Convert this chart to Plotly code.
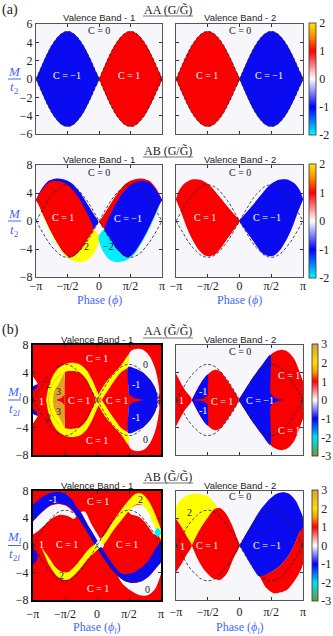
import numpy as np
import plotly.graph_objects as go

PI = float(np.pi)
W, H = 333, 636

# ---------------- data ----------------
PHASE_TICKS = [-PI, -PI / 2, 0.0, PI / 2, PI]
PHASE_TICK_TEXT = ["\u2212\u03c0", "\u2212\u03c0/2", "0", "\u03c0/2", "\u03c0"]
M_TICKS_6 = [-6, -4, -2, 0, 2, 4, 6]
M_TICKS_8 = [-8, -4, 0, 4, 8]
CB_TICKS_A = [-2, -1, 0, 1, 2]
CB_TICKS_B = [-3, -2, -1, 0, 1, 2, 3]

# AA phase boundary |M| on a pi/16 phase grid (read from the lobes)
PHASE_NEG = list(np.linspace(-PI, 0, 17))
PHASE_POS = list(np.linspace(0, PI, 17))
AA_EDGE = [0, 1.01, 1.99, 2.89, 3.68, 4.32, 4.80, 5.10, 5.20, 5.10, 4.80, 4.32, 3.68, 2.89, 1.99, 1.01, 0]

# (a) AB valence band 1, left lobe (right lobe is its mirror with opposite C)
A3_OUT_UP = [(-3.15, 3.0), (-2.86, 4.6), (-2.53, 5.7), (-2.19, 6.05), (-1.78, 5.95), (-1.36, 5.4),
             (-0.95, 4.1), (-0.53, 2.2), (-0.20, 0.7), (-0.03, -0.15)]
A3_RED_UP = [(-3.15, 3.0), (-2.86, 4.4), (-2.53, 5.45), (-2.19, 5.75), (-1.78, 5.5), (-1.45, 4.85),
             (-1.03, 3.4), (-0.70, 1.7), (-0.45, 0.25), (-0.28, -1.2)]
A3_RED_LOW = [(-0.28, -1.2), (-0.53, -2.4), (-0.86, -3.9), (-1.20, -4.9), (-1.45, -5.2), (-1.75, -4.55),
              (-2.05, -3.25), (-2.4, -1.45), (-2.75, 0.65), (-3.03, 2.45), (-3.15, 3.0)]
A3_OUT_LOW = [(-3.15, 3.0), (-3.03, 2.3), (-2.75, 0.4), (-2.4, -1.7), (-2.05, -3.5), (-1.75, -4.8),
              (-1.45, -5.45), (-1.15, -5.8), (-0.86, -5.9), (-0.53, -5.55), (-0.20, -4.35),
              (-0.03, -3.15), (0.02, -2.2)]
# (a) AB valence band 2, left lobe
A4_UP = [(-3.15, 3.1), (-3.0, 4.3), (-2.73, 5.35), (-2.31, 5.95), (-1.90, 5.85), (-1.48, 5.1),
         (-1.06, 3.7), (-0.65, 2.25), (-0.23, 0.85), (0.0, 0.0)]
A4_LOW = [(-3.15, 3.1), (-2.89, 1.3), (-2.48, -1.8), (-2.06, -3.95), (-1.73, -4.9), (-1.48, -5.05),
          (-1.15, -4.65), (-0.65, -2.75), (-0.23, -1.05), (0.0, 0.0)]

# (b) AA valence band 1
B1_BAND_HI = [(-2.50, 0.0), (-2.36, 2.1), (-2.15, 3.6), (-1.9, 4.6), (-1.55, 5.25), (-1.15, 5.4),
              (-0.8, 5.1), (-0.5, 4.3), (-0.25, 3.0), (0.08, 0.8), (0.45, -1.0), (0.83, -2.7),
              (1.2, -4.1), (1.54, -4.85)]
B1_BAND_LO = [(-2.40, 0.0), (-2.24, 1.9), (-2.02, 3.0), (-1.78, 3.75), (-1.5, 4.15), (-1.15, 4.2),
              (-0.8, 3.9), (-0.5, 2.9), (-0.25, 1.4), (0.08, -0.8), (0.45, -2.6), (0.83, -3.9),
              (1.2, -5.1), (1.54, -6.5)]
B1_YEL_IN_UP = [(-2.40, 0.0), (-2.24, 1.9), (-2.02, 3.0), (-1.78, 3.75), (-1.6, 4.1), (-1.6, 2.0)]
B1_ORANGE_UP = [(-1.6, 4.0), (-1.72, 3.3), (-1.9, 2.3), (-2.1, 1.3), (-2.15, 0.4)]
B1_SPIKE_L_UP = [(-1.6, 0.75), (-1.75, 0.3), (-1.98, 0.0)]
B1_CAP_UP = [(1.54, 2.0), (1.54, 6.5), (1.7, 7.2), (2.0, 7.45), (2.3, 7.25), (2.6, 6.3), (2.85, 4.6),
             (3.0, 2.6), (3.06, 1.0), (3.0, 0.3)]
B1_BLUE_UP = [(1.54, 2.0), (1.54, 4.85), (1.9, 4.55), (2.3, 3.9), (2.6, 3.0), (2.85, 1.8),
              (2.97, 0.6), (3.0, 0.0)]
B1_SPIKE_R_UP = [(1.54, 1.0), (1.75, 0.4), (2.23, 0.0)]
B1_EDGE_WHITE = [(-3.15, 3.4), (-2.92, 2.3), (-3.15, 2.0)]
B1_EDGE_BLUE = [(-3.15, 2.0), (-2.92, 2.3), (-2.98, 1.7), (-3.15, 1.3)]
B1_CENTER = [(-0.12, 0.0), (0.08, 0.55), (0.28, 0.0), (0.08, -0.55)]
B1_DOT = [(2.93, 0.0), (3.0, 0.25), (3.07, 0.0), (3.0, -0.25)]

# (b) AA valence band 2
B2_WEDGE_UP = [(-3.15, 3.9), (-2.94, 2.7), (-2.70, 1.45), (-2.36, 0.0)]
B2_LOBE1_UP = [(-2.36, 0.0), (-2.1, 1.5), (-1.85, 2.75), (-1.57, 3.7), (-1.35, 4.25), (-1.15, 4.4),
               (-0.95, 4.15), (-0.63, 2.95), (-0.3, 1.45), (-0.05, 0.0)]
B2_LOBE1_BLUE_UP = [(-2.36, 0.0), (-2.1, 1.5), (-1.85, 2.75), (-1.57, 3.7), (-1.57, 1.5)]
B2_SPIKE_L_UP = [(-1.57, 0.8), (-1.75, 0.25), (-2.28, 0.0)]
B2_LOBE2_UP = [(-0.05, 0.0), (0.3, 1.6), (0.7, 3.4), (1.1, 5.0), (1.52, 6.55), (1.8, 7.1), (2.1, 7.3),
               (2.4, 7.0), (2.7, 6.0), (2.95, 4.3), (3.08, 3.2), (3.15, 2.6)]
B2_LOBE2_BLUE_UP = [(-0.05, 0.0), (0.3, 1.6), (0.7, 3.4), (1.1, 5.0), (1.52, 6.55), (1.52, 2.0)]
B2_SPIKE_R_UP = [(1.52, 1.0), (1.75, 0.3), (2.18, 0.0)]

# (b) AB valence band 1
B3_WHITE_TL = [(-3.15, 3.6), (-2.7, 4.9), (-2.3, 5.8), (-1.9, 6.1), (-1.5, 5.8), (-1.2, 5.0), (-1.0, 4.4),
               (-1.15, 3.9), (-1.4, 4.3), (-1.8, 4.5), (-2.2, 4.0), (-2.6, 2.9), (-2.9, 2.1), (-3.15, 1.6)]
B3_WHITE_BR = [(1.0, -4.4), (1.25, -5.6), (1.65, -6.6), (2.1, -7.3), (2.5, -7.3), (2.85, -6.4),
               (3.05, -5.0), (3.15, -4.0), (3.15, -2.4), (2.9, -3.3), (2.55, -4.5), (2.15, -5.3),
               (1.75, -5.5), (1.35, -5.2)]
B3_WHITE_UR = [(1.5, 5.0), (1.9, 5.9), (2.25, 5.9), (2.55, 4.9), (2.8, 3.2), (2.98, 1.9), (2.85, 1.5),
               (2.6, 2.4), (2.3, 3.6), (2.0, 4.3), (1.7, 4.5)]
B3_WHITE_DIAG = [(-0.8, 4.9), (-0.6, 5.0), (-0.25, 3.0), (0.1, 1.3), (0.35, 0.2), (0.25, -0.4),
                 (-0.1, 1.3), (-0.45, 3.0)]
B3_BLUE = [(-3.15, 5.9), (-2.8, 6.9), (-2.4, 7.6), (-2.0, 7.85), (-1.6, 7.65), (-1.25, 6.8), (-1.0, 5.6),
           (-0.8, 4.9), (-0.45, 3.0), (-0.1, 1.3), (0.25, -0.4), (0.6, -2.0), (0.95, -3.4), (1.2, -4.1),
           (1.5, -4.2), (1.85, -3.9), (2.2, -3.2), (2.55, -2.1), (2.85, -0.6), (3.0, 0.1), (3.15, 0.6),
           (3.15, -2.4), (2.9, -3.3), (2.55, -4.5), (2.15, -5.3), (1.75, -5.5), (1.35, -5.2), (1.0, -4.4),
           (0.7, -3.4), (0.35, -2.0), (0.0, -0.4), (-0.35, 1.3), (-0.7, 3.0), (-1.05, 4.6), (-1.25, 5.4),
           (-1.5, 5.9), (-1.9, 6.2), (-2.3, 5.9), (-2.7, 4.9), (-3.15, 3.5)]
B3_BLUE_EDGE = [(-3.15, -0.4), (-2.92, -1.3), (-2.95, -2.1), (-3.15, -2.9)]
B3_YEL_UP = [(-2.75, -0.2), (-2.4, -1.6), (-2.0, -3.3), (-1.7, -3.9), (-1.4, -3.9), (-1.1, -3.1),
             (-0.8, -2.0), (-0.4, -0.5), (0.0, 0.4), (0.4, 1.7), (0.8, 3.6), (1.2, 5.3), (1.6, 6.8),
             (1.9, 7.6), (2.2, 7.6), (2.5, 6.7), (2.8, 5.0), (3.0, 3.5), (3.15, 2.2)]
B3_YEL_LO = [(-2.4, -2.6), (-2.0, -4.4), (-1.7, -5.0), (-1.4, -5.0), (-1.1, -4.3), (-0.8, -3.3),
             (-0.4, -1.8), (0.0, -0.7), (0.4, 0.4), (0.8, 2.2), (1.2, 3.7), (1.6, 5.2), (1.9, 6.0),
             (2.2, 6.0), (2.5, 5.0), (2.8, 3.0), (3.0, 1.6), (3.15, 0.8)]
B3_CENTER = [(-0.1, 0.2), (0.08, 0.75), (0.25, 0.2), (0.08, -0.35)]
B3_CYAN = [(2.82, 1.9), (2.97, 2.6), (3.15, 1.9), (2.97, 1.2)]

# (b) AB valence band 2
B4_YELLOW = [(-3.15, 3.95), (-3.15, 5.6), (-2.94, 6.6), (-2.6, 7.35), (-2.25, 7.6), (-1.85, 7.5),
             (-1.5, 7.1), (-1.22, 6.2), (-1.12, 5.5), (-1.21, 5.4), (-1.55, 4.2), (-1.85, 2.9),
             (-2.1, 1.6), (-2.36, 0.0), (-2.6, 1.3), (-2.85, 2.6)]
B4_WEDGE_UP = [(-3.15, 3.95), (-2.85, 2.6), (-2.6, 1.3), (-2.36, 0.0)]
B4_LOBE = [(-2.36, 0.0), (-2.1, 1.6), (-1.85, 2.9), (-1.55, 4.2), (-1.21, 5.4), (-0.95, 5.45),
           (-0.7, 4.8), (-0.4, 3.2), (-0.15, 1.3), (0.0, 0.0), (-0.3, -1.9), (-0.63, -4.1),
           (-0.96, -5.05), (-1.29, -4.85), (-1.79, -3.4), (-2.12, -1.7)]
B4_BLUE = [(0.0, 0.0), (0.53, 2.75), (1.03, 5.2), (1.52, 6.9), (1.85, 7.6), (2.2, 7.8), (2.5, 7.5),
           (2.8, 6.5), (3.0, 5.2), (3.15, 4.0), (3.15, 2.6), (2.95, 1.8), (2.7, 0.0), (2.4, -1.6),
           (2.0, -3.0), (1.5, -4.0), (1.0, -4.6), (0.53, -2.65), (0.25, -1.2)]
B4_RED_BR = [(1.0, -4.6), (1.5, -4.0), (2.0, -3.0), (2.4, -1.6), (2.7, 0.0), (2.95, 1.8), (3.15, 2.6),
             (3.15, -2.6), (2.85, -4.6), (2.35, -6.5), (1.69, -7.0), (1.27, -6.05)]

# ---------------- style ----------------
CHERN_COLOR = {-2: "#00eeff", -1: "#0b0bf2", 0: "#f7f7fc", 1: "#fa0000", 2: "#ffff00", 3: "#e0a030"}
BG = "#f6f6fb"
BLUE_TXT = "#4466ff"
SERIF = "Liberation Serif"
SANS = "Liberation Sans"
SCALE_A = [[0, "#00ffff"], [0.25, "#0000ff"], [0.5, "#ffffff"], [0.75, "#ff0000"],
           [0.875, "#ff8800"], [1, "#ffe600"]]
SCALE_B = [[0, "#6a9a3a"], [1 / 6, "#00e0f0"], [2 / 6, "#0000ff"], [0.5, "#ffffff"], [4 / 6, "#ff0000"],
           [0.75, "#ff9900"], [5 / 6, "#ffdd00"], [1, "#d9a03a"]]

XD = {1: (36, 162), 2: (176, 303), 3: (36, 162), 4: (176, 303),
      5: (33, 161), 6: (176, 303), 7: (33, 161), 8: (176, 303)}
YD = {1: (24, 134), 2: (24, 134), 3: (165, 277), 4: (165, 277),
      5: (345, 455), 6: (345, 455), 7: (491, 600), 8: (491, 600)}
YR = {1: 6, 2: 6, 3: 8, 4: 8, 5: 8, 6: 8, 7: 8, 8: 8}

fig = go.Figure()


def axn(i):
    return ("x" if i == 1 else f"x{i}"), ("y" if i == 1 else f"y{i}")


def clean(pts):
    out = []
    for p in pts:
        if not out or (abs(out[-1][0] - p[0]) > 1e-9 or abs(out[-1][1] - p[1]) > 1e-9):
            out.append(p)
    if len(out) > 1 and out[0] == out[-1]:
        out.pop()
    return out


def sym(upper):
    low = [(p, -m) for p, m in reversed(upper) if m != 0]
    return upper + low


def flip(pts):
    return [(-p, m) for p, m in pts]


def add_poly(i, chern, pts):
    xa, ya = axn(i)
    pts = clean(pts)
    fig.add_trace(go.Scatter(
        x=[p for p, m in pts], y=[m for p, m in pts], xaxis=xa, yaxis=ya, mode="lines",
        fill="toself", fillcolor=CHERN_COLOR[chern],
        line=dict(width=0, color=CHERN_COLOR[chern], shape="spline", smoothing=0.8),
        hoverinfo="skip", showlegend=False))


def add_dashed(i):
    xa, ya = axn(i)
    xs, ys = [], []
    for ph in (PHASE_NEG, PHASE_POS):
        for s in (1, -1):
            xs += ph + [None]
            ys += [s * v for v in AA_EDGE] + [None]
    fig.add_trace(go.Scatter(x=xs, y=ys, xaxis=xa, yaxis=ya, mode="lines",
                             line=dict(color="#222", width=0.8, dash="3px,2px"),
                             hoverinfo="skip", showlegend=False))


def label(i, p, m, text, color="white", size=10):
    xa, ya = axn(i)
    fig.add_annotation(x=p, y=m, xref=xa, yref=ya, text=text, showarrow=False,
                       font=dict(family=SERIF, size=size, color=color))


def ptext(px, py, text, size, color="#222", family=SERIF):
    fig.add_annotation(x=px / W, y=1 - py / H, xref="paper", yref="paper", text=text,
                       showarrow=False, font=dict(family=family, size=size, color=color),
                       xanchor="center", yanchor="middle")


def pline(x0, y0, x1, y1, color, width):
    fig.add_shape(type="line", xref="paper", yref="paper", x0=x0 / W, x1=x1 / W,
                  y0=1 - y0 / H, y1=1 - y1 / H, line=dict(color=color, width=width))


# ---------- (a) AA ----------
LOBE_L = list(zip(PHASE_NEG, AA_EDGE)) + list(zip(PHASE_NEG[::-1], [-v for v in AA_EDGE[::-1]]))
LOBE_R = list(zip(PHASE_POS, AA_EDGE)) + list(zip(PHASE_POS[::-1], [-v for v in AA_EDGE[::-1]]))
add_poly(1, -1, LOBE_L)
add_poly(1, 1, LOBE_R)
add_poly(2, 1, LOBE_L)
add_poly(2, -1, LOBE_R)

# ---------- (a) AB ----------
a3_blue = A3_OUT_UP + A3_RED_LOW
a3_yel = A3_OUT_LOW + A3_RED_LOW
a3_red = A3_RED_UP + A3_RED_LOW
for sign, tr in ((1, lambda q: q), (-1, flip)):
    add_poly(3, -1 * sign, tr(a3_blue))
    add_poly(3, 2 * sign, tr(a3_yel))
    add_poly(3, 1 * sign, tr(a3_red))
a4_lobe = A4_UP + A4_LOW[::-1]
add_poly(4, 1, a4_lobe)
add_poly(4, -1, flip(a4_lobe))

# ---------- (b) AA VB1 ----------
add_poly(5, 0, sym(B1_CAP_UP))
add_poly(5, -1, sym(B1_BLUE_UP))
add_poly(5, 1, sym(B1_SPIKE_R_UP))
add_poly(5, 0, B1_EDGE_WHITE)
add_poly(5, -1, B1_EDGE_BLUE)
add_poly(5, 0, [(p, -m) for p, m in B1_EDGE_WHITE])
add_poly(5, -1, [(p, -m) for p, m in B1_EDGE_BLUE])
add_poly(5, 2, sym(B1_YEL_IN_UP))
add_poly(5, 3, sym(B1_ORANGE_UP))
add_poly(5, 1, sym(B1_SPIKE_L_UP))
bandA = B1_BAND_HI + B1_BAND_LO[::-1]
add_poly(5, 2, bandA)
add_poly(5, 2, [(p, -m) for p, m in bandA])
add_poly(5, 3, B1_CENTER)
add_poly(5, -2, B1_DOT)

# ---------- (b) AA VB2 ----------
add_poly(6, 1, sym(B2_WEDGE_UP))
add_poly(6, 1, sym(B2_LOBE1_UP))
add_poly(6, -1, sym(B2_LOBE1_BLUE_UP))
add_poly(6, 1, sym(B2_SPIKE_L_UP))
add_poly(6, 1, sym(B2_LOBE2_UP))
add_poly(6, -1, sym(B2_LOBE2_BLUE_UP))
add_poly(6, -1, sym(B2_SPIKE_R_UP))

# ---------- (b) AB VB1 ----------
add_poly(7, 0, B3_WHITE_TL)
add_poly(7, 0, B3_WHITE_BR)
add_poly(7, 0, B3_WHITE_UR)
add_poly(7, 0, B3_WHITE_DIAG)
add_poly(7, -1, B3_BLUE)
add_poly(7, -1, B3_BLUE_EDGE)
add_poly(7, 2, B3_YEL_UP + B3_YEL_LO[::-1])
add_poly(7, 0, B3_CENTER)
add_poly(7, -2, B3_CYAN)

# ---------- (b) AB VB2 ----------
add_poly(8, 2, B4_YELLOW)
add_poly(8, 1, sym(B4_WEDGE_UP))
add_poly(8, 1, B4_LOBE)
add_poly(8, -1, B4_BLUE)
add_poly(8, 1, B4_RED_BR)

for i in range(1, 9):
    add_dashed(i)


# ---------- colorbars ----------
def add_cbar(i, ticks, scale, x0, thick):
    xa, ya = axn(i)
    yt, yb = YD[i]
    fig.add_trace(go.Scatter(
        x=[0], y=[100], xaxis=xa, yaxis=ya, mode="markers", hoverinfo="skip", showlegend=False,
        marker=dict(size=0, color=[0], colorscale=scale, cmin=ticks[0], cmax=ticks[-1], showscale=True,
                    colorbar=dict(x=x0 / W, xanchor="left", y=1 - (yb + 1) / H, yanchor="bottom",
                                  len=(yb - yt + 2) / H, lenmode="fraction", thickness=thick,
                                  thicknessmode="pixels", xpad=0, ypad=0, outlinewidth=0.8,
                                  outlinecolor="#333", tickvals=ticks, ticktext=[str(t) for t in ticks],
                                  ticks="", ticklen=0,
                                  tickfont=dict(family=SERIF, size=12, color="#222")))))


add_cbar(2, CB_TICKS_A, SCALE_A, 309, 7)
add_cbar(4, CB_TICKS_A, SCALE_A, 309, 7)
add_cbar(6, CB_TICKS_B, SCALE_B, 312, 6)
add_cbar(8, CB_TICKS_B, SCALE_B, 312, 6)

# ---------- axes ----------
layout_axes = {}
for i in range(1, 9):
    xa, ya = axn(i)
    thick = i in (5, 7)
    lc = "#000" if thick else "#555"
    lw = 2.2 if thick else 1
    xname = "xaxis" if i == 1 else f"xaxis{i}"
    yname = "yaxis" if i == 1 else f"yaxis{i}"
    r = YR[i]
    yt = M_TICKS_6 if r == 6 else M_TICKS_8
    layout_axes[xname] = dict(
        domain=[XD[i][0] / W, XD[i][1] / W], range=[-PI, PI], anchor=ya,
        tickvals=PHASE_TICKS, ticktext=PHASE_TICK_TEXT, showticklabels=i in (3, 4, 7, 8),
        ticklabelstandoff=(-2 if i in (3, 4) else 1),
        ticks="inside", ticklen=3, tickwidth=0.8, tickcolor="#333", showline=True, linecolor=lc,
        linewidth=lw, mirror="ticks", showgrid=False, zeroline=False, fixedrange=True,
        tickfont=dict(family=SERIF, size=12, color="#222"))
    layout_axes[yname] = dict(
        domain=[1 - YD[i][1] / H, 1 - YD[i][0] / H], range=[-r, r], anchor=xa,
        tickvals=yt, ticktext=[str(v).replace("-", "\u2212") for v in yt],
        showticklabels=i in (1, 3, 5, 7),
        ticks="inside", ticklen=3, tickwidth=0.8, tickcolor="#333", showline=True, linecolor=lc,
        linewidth=lw, mirror="ticks", showgrid=False, zeroline=False, fixedrange=True,
        tickfont=dict(family=SERIF, size=12, color="#222"))

fig.update_layout(width=W, height=H, margin=dict(l=0, r=0, t=0, b=0, autoexpand=False),
                  paper_bgcolor="white", plot_bgcolor=BG, showlegend=False, **layout_axes)

for i in (5, 7):
    xa, ya = axn(i)
    fig.add_shape(type="rect", xref=f"{xa} domain", yref=f"{ya} domain", x0=0, x1=1, y0=0, y1=1,
                  fillcolor=CHERN_COLOR[1], line=dict(width=0), layer="below")

# ---------- in-panel labels ----------
D = "#222"
label(1, 0, 5.3, "C = 0", D); label(1, -1.6, 0.4, "C = \u22121"); label(1, 1.5, 0.4, "C = 1")
label(2, 0, 5.3, "C = 0", D); label(2, -1.6, 0.4, "C = 1"); label(2, 1.45, 0.4, "C = \u22121")
label(3, 0, 6.9, "C = 0", D); label(3, -1.8, 0.45, "C = 1"); label(3, 1.45, 0.3, "C = \u22121")
label(3, -0.6, -3.6, "2", D); label(3, 0.45, -3.6, "\u22122", D)
label(4, 0, 6.9, "C = 0", D); label(4, -1.71, 0.45, "C = 1"); label(4, 1.36, 0.45, "C = \u22121")

label(5, 0.0, 6.0, "C = 1"); label(5, 0.0, -5.9, "C = 1")
label(5, -0.9, 0.0, "C = 1"); label(5, 1.0, 0.0, "C = 1")
label(5, -2.73, -0.2, "1"); label(5, -2.4, 2.2, "2", D); label(5, -2.4, -2.6, "2", D)
label(5, -1.9, 1.2, "3", D); label(5, -1.9, -1.7, "3", D)
label(5, 1.9, 2.2, "-1"); label(5, 1.9, -2.6, "-1")
label(5, 2.4, 5.2, "0", D); label(5, 2.4, -5.8, "0", D)

label(6, 0.03, 7.0, "C = 0", D); label(6, -2.86, 0.0, "1")
label(6, -1.83, 1.2, "-1"); label(6, -1.83, -1.55, "-1")
label(6, -0.88, -0.15, "C = 1"); label(6, 1.03, 0.0, "C = \u22121")
label(6, 2.43, 3.6, "C = 1"); label(6, 2.43, -4.4, "C = 1")

label(7, -2.14, 6.7, "-1"); label(7, 0.04, 6.4, "C = 1"); label(7, -1.47, 0.1, "C = 1")
label(7, 1.47, 0.1, "C = 1"); label(7, 0.04, -6.3, "C = 1"); label(7, -2.72, 0.1, "1")
label(7, -1.72, -4.4, "2", D); label(7, 2.14, 6.7, "2", D); label(7, 2.47, -6.5, "0", D)

label(8, 0.03, 7.2, "C = 0", D); label(8, -2.45, 4.9, "2", D); label(8, -2.84, -0.1, "1")
label(8, -1.62, 0.0, "C = 1"); label(8, 1.36, 0.0, "C = \u22121")

# ---------- titles and axis labels ----------
ptext(10, 10, "(a)", 14)
ptext(10, 330, "(b)", 14)
for (y, txt) in ((10, "AA (G/G\u0303)"), (151, "AB (G/G\u0303)"),
                 (331, "AA (G\u0303/G\u0303)"), (477, "AB (G\u0303/G\u0303)")):
    ptext(168, y, txt, 12)
for y in (16, 157, 338, 483):
    pline(143, y, 193, y, "#777", 1.2)

for i in range(1, 9):
    cx = (XD[i][0] + XD[i][1]) / 2
    ptext(cx, YD[i][0] - 6, "Valence Band - " + ("1" if i % 2 == 1 else "2"), 9.5, "#222", SANS)

for i, (top, bot) in ((1, ("<i>M</i>", "<i>t</i><sub>2</sub>")), (3, ("<i>M</i>", "<i>t</i><sub>2</sub>")),
                      (5, ("<i>M</i><sub><i>l</i></sub>", "<i>t</i><sub>2<i>l</i></sub>")),
                      (7, ("<i>M</i><sub><i>l</i></sub>", "<i>t</i><sub>2<i>l</i></sub>"))):
    cy = (YD[i][0] + YD[i][1]) / 2
    ptext(14, cy - 8, top, 13, BLUE_TXT)
    pline(8, cy, 21, cy, BLUE_TXT, 1)
    ptext(14, cy + 9, bot, 13, BLUE_TXT)

for i, txt, yy in ((3, "Phase (<i>\u03d5</i>)", 300), (4, "Phase (<i>\u03d5</i>)", 300),
                   (7, "Phase (<i>\u03d5</i><sub><i>l</i></sub>)", 628),
                   (8, "Phase (<i>\u03d5</i><sub><i>l</i></sub>)", 628)):
    cx = (XD[i][0] + XD[i][1]) / 2
    ptext(cx, yy, txt, 12, BLUE_TXT)

fig.write_html("out.html", config={"displayModeBar": False},
               post_script="document.body.style.margin='0';document.body.style.padding='0';")
